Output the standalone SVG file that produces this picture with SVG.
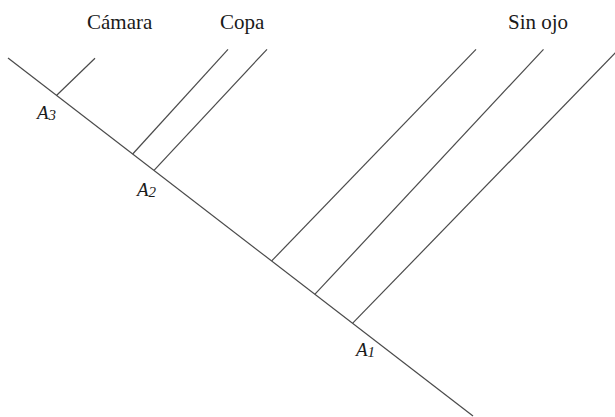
<svg xmlns="http://www.w3.org/2000/svg" width="615" height="417" viewBox="0 0 615 417">
  <style>
    .ln { stroke: #4a4a4a; stroke-width: 1.2; fill: none; }
    .lbl { font-family: 'Liberation Serif', 'DejaVu Serif', serif; font-size: 21px; fill: #1a1a1a; }
    .anc { font-family: 'Liberation Serif', 'DejaVu Serif', serif; font-style: italic; font-size: 19px; fill: #1a1a1a; }
    .sub { font-size: 15px; }
  </style>
  <rect width="615" height="417" fill="#ffffff"/>
  <g id="connectors">
    <line class="ln" x1="8" y1="58" x2="473" y2="416"/>
    <line class="ln" x1="56.7" y1="95.3" x2="95" y2="58.3"/>
    <line class="ln" x1="132.7" y1="154" x2="228" y2="49.3"/>
    <line class="ln" x1="154" y1="170.3" x2="267" y2="49.3"/>
    <line class="ln" x1="271.7" y1="260.9" x2="476" y2="49.3"/>
    <line class="ln" x1="315" y1="294.2" x2="543.5" y2="49.3"/>
    <line class="ln" x1="352.7" y1="323.2" x2="619" y2="49"/>
  </g>
  <g id="camara"><text class="lbl" font-family="Liberation Serif, serif" x="87" y="29">Cámara</text></g>
  <g id="copa"><text class="lbl" font-family="Liberation Serif, serif" x="220" y="29">Copa</text></g>
  <g id="sin-ojo"><text class="lbl" font-family="Liberation Serif, serif" x="508" y="29">Sin ojo</text></g>
  <g id="A3"><text class="anc" font-family="Liberation Serif, serif" x="37" y="119">A<tspan class="sub" dy="1">3</tspan></text></g>
  <g id="A2"><text class="anc" font-family="Liberation Serif, serif" x="137" y="196">A<tspan class="sub" dy="1">2</tspan></text></g>
  <g id="A1"><text class="anc" font-family="Liberation Serif, serif" x="356" y="356">A<tspan class="sub" dy="1">1</tspan></text></g>
</svg>
